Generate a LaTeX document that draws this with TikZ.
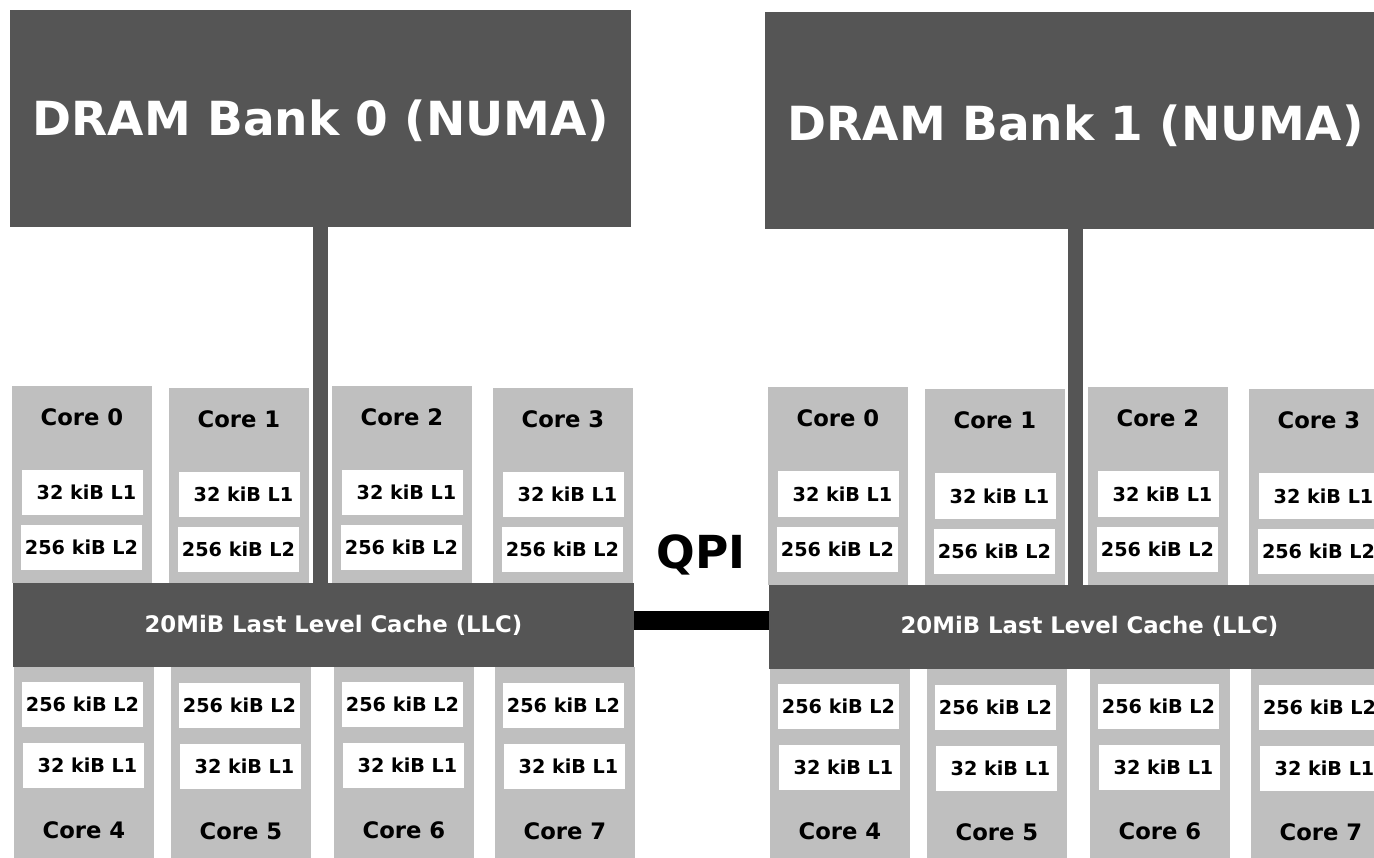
\documentclass[tikz,border=0pt]{standalone}
\usepackage{fontspec}
\setmainfont{DejaVu Sans}
\definecolor{darkbox}{HTML}{555555}
\definecolor{coregray}{HTML}{BFBFBF}
\tikzset{
  box/.style={anchor=north west, inner sep=0pt, outer sep=0pt, draw=none},
  drambox/.style={box, fill=darkbox, minimum width=621pt, minimum height=217pt},
  dramtext/.style={text=white, font=\fontsize{47}{50}\selectfont\bfseries},
  llcbox/.style={box, fill=darkbox, minimum width=621pt, minimum height=84pt},
  llctext/.style={text=white, font=\fontsize{22.8}{26}\selectfont\bfseries},
  corebox/.style={box, fill=coregray, minimum width=140pt},
  corelabel/.style={text=black, font=\fontsize{22.7}{26}\selectfont\bfseries},
  cachebox/.style={box, fill=white, minimum width=121pt, minimum height=45pt, text=black, font=\fontsize{19.2}{22}\selectfont\bfseries},
  bus/.style={draw=darkbox, line width=15pt},
  qpiline/.style={draw=black, line width=19pt},
  qpitext/.style={font=\fontsize{45.5}{50}\selectfont\bfseries}
}
\begin{document}
\begin{tikzpicture}[x=1pt, y=-1pt]
\fill[white] (0,0) rectangle (1374,858);
\clip (0,0) rectangle (1374,858);
\foreach \s/\sx/\sy/\ty in {0/0/0/-2, 1/756/1.5/-5}{
  \begin{scope}[shift={(\sx,\sy)}]
    % DRAM bank
    \node[drambox] (dram\s) at (-1*\s+10,10+0.5*\s) {};
    \node[dramtext] (dramt\s) at ([yshift=\ty pt]dram\s.center) {DRAM Bank \s\ (NUMA)};
    % LLC
    \node[llcbox] (llc\s) at (13,583) {};
    \node[llctext] (llct\s) at ([xshift=10pt]llc\s.center) {20MiB Last Level Cache (LLC)};
    % top cores
    \foreach \x/\yt/\i in {12/386/0, 169/388/1, 332/386/2, 493/388/3}{
      \pgfmathsetmacro{\h}{583-\yt}
      \node[corebox, minimum height=\h pt] (c\s-\i) at (\x,\yt) {};
      \node[corelabel] (cl\s-\i) at ([yshift=-31pt]c\s-\i.north) {Core \i};
      \node[cachebox] (la\s-\i) at (\x+10,\yt+84) {\hspace*{8pt}32 kiB L1};
      \node[cachebox] (lb\s-\i) at (\x+9,\yt+139) {256 kiB L2};
    }
    % bottom cores
    \foreach \x/\dy/\i in {14/0/4, 171/1/5, 334/0/6, 495/1/7}{
      \node[corebox, minimum height=200pt] (c\s-\i) at (\x,667) {};
      \node[corelabel] (cl\s-\i) at (\x+70,830+\dy) {Core \i};
      \node[cachebox] (lb\s-\i) at (\x+8,682+\dy) {256 kiB L2};
      \node[cachebox] (la\s-\i) at (\x+9,743+\dy) {\hspace*{8pt}32 kiB L1};
    }
    % memory bus
    \draw[bus] (dram\s.south) -- (dram\s.south |- llc\s.north);
  \end{scope}
}
% QPI link
\draw[qpiline] ([yshift=4.5pt]llc0.east) -- ([yshift=4.5pt]llc0.east -| llc1.west);
\node[qpitext] (qpi) at (701,555) {QPI};
\end{tikzpicture}
\end{document}
